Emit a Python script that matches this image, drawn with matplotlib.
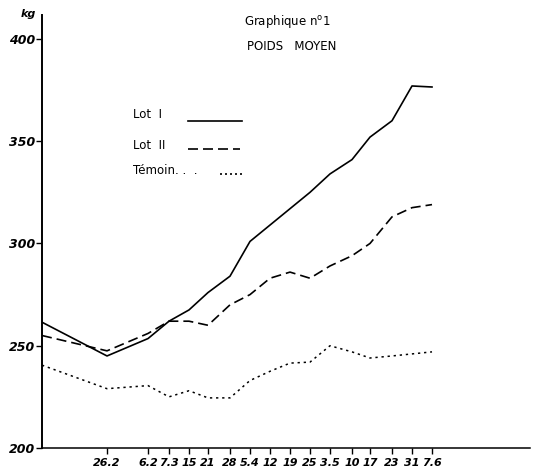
import matplotlib.pyplot as plt

# x positions of the weighings (arbitrary units, ~1 unit per week)
x_pos = [0, 3.25, 5.3, 6.35, 7.35, 8.3, 9.4, 10.4, 11.4, 12.4, 13.4, 14.4,
         15.5, 16.4, 17.5, 18.5, 19.5]
dates = ["26.2", "6.2", "7.3", "15", "21", "28", "5.4", "12", "19", "25",
         "3.5", "10", "17", "23", "31", "7.6"]

lot1 = [261.5, 245, 253.5, 262, 267.5, 276, 284, 301, 309, 317, 325, 334,
        341, 352, 360, 377, 376.5]
lot2 = [255, 247.5, 256, 262, 262, 260, 270, 275, 283, 286, 283, 289,
        294, 300, 313, 317.5, 319]
temoin = [240.5, 229, 230.5, 225, 228, 224.5, 224.5, 233, 237.5, 241.5, 242,
          250, 247, 244, 245, 246, 247]

y_ticks = [200, 250, 300, 350, 400]

HAND = dict(fontweight="bold", fontstyle="italic", family="DejaVu Sans")


def main():
    fig = plt.figure(figsize=(5.48, 4.72), dpi=100)
    ax = fig.add_axes([42 / 548, 24 / 472, 488 / 548, 433 / 472])
    plot_data(ax)
    set_properties(fig, ax)
    draw_legend(ax)
    fig.savefig("out.png", dpi=100)


def plot_data(ax):
    ax.plot(x_pos, lot1, color="black", lw=1.2, solid_joinstyle="round")
    ax.plot(x_pos, lot2, color="black", lw=1.2, dashes=(6, 3))
    ax.plot(x_pos, temoin, color="black", lw=1.1, dashes=(1.5, 2.5))


def set_properties(fig, ax):
    ax.set_xlim(0, 24.4)
    ax.set_ylim(200, 411.7)
    for s in ["top", "right"]:
        ax.spines[s].set_visible(False)
    ax.spines["left"].set_linewidth(1.4)
    ax.spines["bottom"].set_linewidth(1.1)

    ax.set_yticks(y_ticks)
    ax.set_yticklabels([str(v) for v in y_ticks], fontsize=9, **HAND)
    ax.tick_params(axis="y", direction="out", length=4, width=1, pad=1)

    ax.set_xticks(x_pos[1:])
    ax.set_xticklabels(dates, fontsize=8, **HAND)
    ax.tick_params(axis="x", direction="out", length=4, width=1, pad=3)

    fig.text(28 / 548, 1 - 14 / 472, "kg", fontsize=8, ha="center",
             va="center", **HAND)
    fig.text(287 / 548, 1 - 21 / 472, "Graphique n$^{\\mathrm{o}}$1",
             fontsize=8.5, ha="center", va="center")
    fig.text(292 / 548, 1 - 46 / 472, "POIDS   MOYEN", fontsize=8.5,
             ha="center", va="center")


def draw_legend(ax):
    tr = ax.transAxes
    fx = lambda px: (px - 42) / 488
    fy = lambda py: (448 - py) / 433
    ax.text(fx(133), fy(118), "Lot  I", transform=tr, fontsize=8.5,
            va="baseline")
    ax.plot([fx(188), fx(242)], [fy(121), fy(121)], transform=tr,
            color="black", lw=1.2)
    ax.text(fx(133), fy(149), "Lot  II", transform=tr, fontsize=8.5,
            va="baseline")
    ax.plot([fx(188), fx(240)], [fy(149), fy(149)], transform=tr,
            color="black", lw=1.2, dashes=(6, 3))
    ax.text(fx(133), fy(174), "Témoin. .  .", transform=tr, fontsize=8.5,
            va="baseline")
    ax.plot([fx(220), fx(242)], [fy(174), fy(174)], transform=tr,
            color="black", lw=1.2, dashes=(1.2, 1.8))


if __name__ == "__main__":
    main()
